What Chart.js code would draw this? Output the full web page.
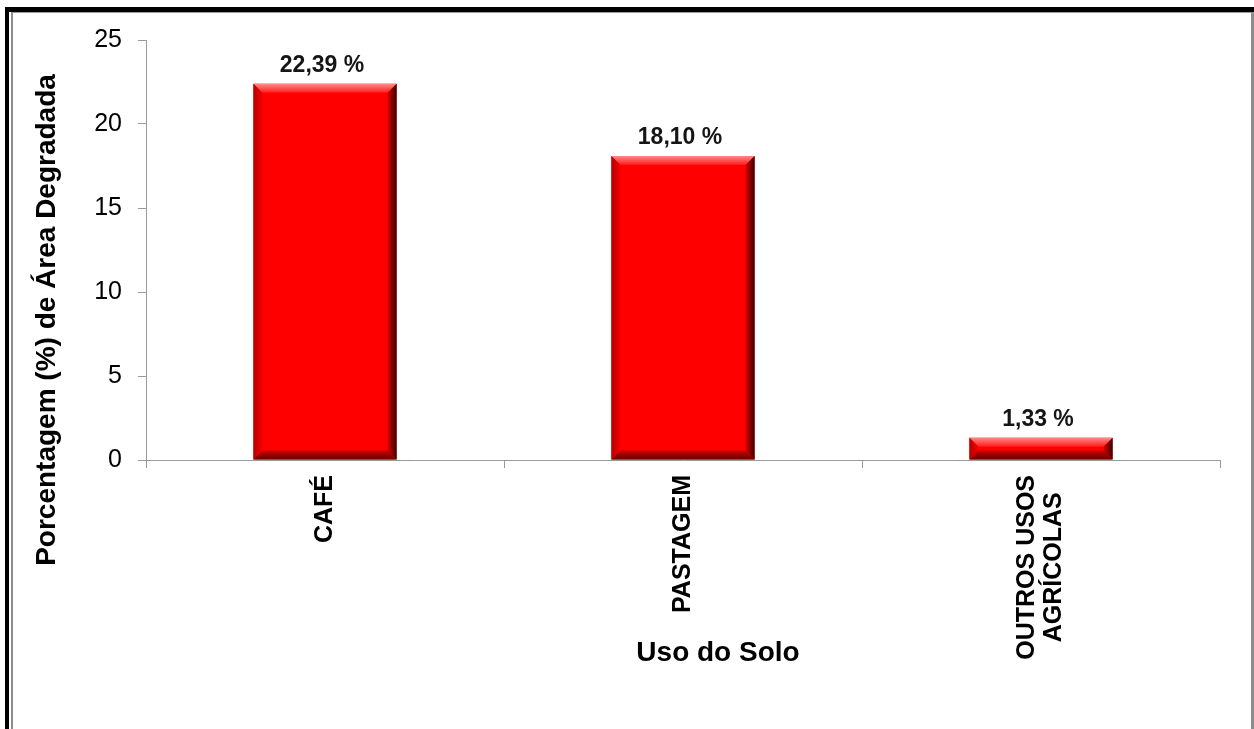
<!DOCTYPE html>
<html lang="pt-BR">
<head>
<meta charset="utf-8">
<title>Uso do Solo</title>
<script src="https://cdn.jsdelivr.net/npm/chart.js@4.4.1/dist/chart.umd.min.js"></script>
<style>
  html, body { margin: 0; padding: 0; background: #fff; overflow: hidden; }
  #wrap { position: relative; width: 1254px; height: 729px; }
  #grafico { position: absolute; left: 0; top: 0; }
  /* moldura da figura */
  #molduraExt { position: absolute; left: 5px; top: 7px; right: 0; bottom: -20px;
    border-top: 5px solid #000; border-left: 4px solid #000; pointer-events: none; }
  #molduraInt { position: absolute; left: 11px; top: 12px; right: 0; bottom: -20px;
    border-top: 1px solid #9a9a9a; border-left: 2px solid #8c8c8c; border-right: 3px solid #8c8c8c;
    pointer-events: none; }
</style>
</head>
<body>
<div id="wrap">
  <canvas id="grafico" width="1254" height="729"></canvas>
  <div id="molduraExt"></div>
  <div id="molduraInt"></div>
</div>
<script>
const categorias = [['CAFÉ'], ['PASTAGEM'], ['OUTROS USOS', 'AGRÍCOLAS']];
const porcentagens = [22.39, 18.10, 1.33];
const ticksY = [0, 5, 10, 15, 20, 25];

const tituloY = 'Porcentagem (%) de Área Degradada';
const tituloX = 'Uso do Solo';

const FONTE = '"Liberation Sans", Arial, Helvetica, sans-serif';
Chart.defaults.font.family = FONTE;

// bordas chanfradas das barras (efeito 3D)
function desenhaChanfro(ctx, l, t, r, b) {
  const e = Math.min(9, (b - t) / 2);
  let g;
  ctx.save();

  g = ctx.createLinearGradient(0, t, 0, t + e);
  g.addColorStop(0, '#ff8a8a');
  g.addColorStop(1, '#ff1c1c');
  ctx.fillStyle = g;
  ctx.beginPath();
  ctx.moveTo(l, t); ctx.lineTo(r, t); ctx.lineTo(r - e, t + e); ctx.lineTo(l + e, t + e);
  ctx.closePath(); ctx.fill();

  g = ctx.createLinearGradient(l, 0, l + e, 0);
  g.addColorStop(0, '#b80000');
  g.addColorStop(1, '#f40000');
  ctx.fillStyle = g;
  ctx.beginPath();
  ctx.moveTo(l, t); ctx.lineTo(l + e, t + e); ctx.lineTo(l + e, b - e); ctx.lineTo(l, b);
  ctx.closePath(); ctx.fill();

  g = ctx.createLinearGradient(0, b - e, 0, b);
  g.addColorStop(0, '#c80000');
  g.addColorStop(1, '#6a0000');
  ctx.fillStyle = g;
  ctx.beginPath();
  ctx.moveTo(l, b); ctx.lineTo(l + e, b - e); ctx.lineTo(r - e, b - e); ctx.lineTo(r, b);
  ctx.closePath(); ctx.fill();

  g = ctx.createLinearGradient(r - e, 0, r, 0);
  g.addColorStop(0, '#d40000');
  g.addColorStop(1, '#3c0000');
  ctx.fillStyle = g;
  ctx.beginPath();
  ctx.moveTo(r, t); ctx.lineTo(r, b); ctx.lineTo(r - e, b - e); ctx.lineTo(r - e, t + e);
  ctx.closePath(); ctx.fill();

  ctx.restore();
}

const rotulos = {
  id: 'rotulos',
  afterDatasetsDraw(chart) {
    const ctx = chart.ctx;
    const meta = chart.getDatasetMeta(0);
    meta.data.forEach((bar, i) => {
      const p = bar.getProps(['x', 'y', 'base', 'width'], true);
      desenhaChanfro(ctx, p.x - p.width / 2, p.y, p.x + p.width / 2, p.base);

      // valor acima da barra
      ctx.save();
      ctx.font = 'bold 23px ' + FONTE;
      ctx.fillStyle = '#151515';
      ctx.textAlign = 'center';
      ctx.textBaseline = 'alphabetic';
      ctx.fillText(porcentagens[i].toFixed(2).replace('.', ',') + ' %', p.x - 3, p.y - 12);
      ctx.restore();
    });
  },
  afterDraw(chart) {
    const ctx = chart.ctx;
    const sx = chart.scales.x;
    const area = chart.chartArea;

    // nomes das categorias, girados
    ctx.save();
    ctx.font = 'bold 25px ' + FONTE;
    ctx.fillStyle = '#000';
    ctx.textAlign = 'center';
    ctx.textBaseline = 'middle';
    categorias.forEach((linhas, i) => {
      const px = sx.getPixelForValue(i);
      const larg = Math.max(...linhas.map(s => ctx.measureText(s).width));
      const yc = sx.top + 15 + larg / 2;
      linhas.forEach((s, k) => {
        const cx = px + (k - (linhas.length - 1) / 2) * 27;
        ctx.save();
        ctx.translate(cx, yc);
        ctx.rotate(-Math.PI / 2);
        ctx.fillText(s, 0, 0);
        ctx.restore();
      });
    });
    ctx.restore();

    // títulos dos eixos
    ctx.save();
    ctx.fillStyle = '#000';
    ctx.textAlign = 'center';
    ctx.textBaseline = 'middle';
    ctx.font = 'bold 28px ' + FONTE;
    ctx.fillText(tituloX, (area.left + area.right) / 2 + 35, 653);
    ctx.font = 'bold 28px ' + FONTE;
    ctx.translate(area.left - 99, (area.top + area.bottom) / 2 + 70);
    ctx.rotate(-Math.PI / 2);
    ctx.fillText(tituloY, 0, 0);
    ctx.restore();
  }
};

new Chart(document.getElementById('grafico'), {
  type: 'bar',
  data: {
    labels: categorias.map(c => c.join(' ')),
    datasets: [{
      data: porcentagens,
      backgroundColor: '#ff0000',
      borderWidth: 0,
      barPercentage: 0.4,
      categoryPercentage: 1
    }]
  },
  options: {
    responsive: false,
    animation: false,
    layout: { padding: { left: 0, top: 40, right: 34, bottom: 0 } },
    plugins: {
      legend: { display: false },
      tooltip: { enabled: false }
    },
    scales: {
      x: {
        grid: { display: true, drawOnChartArea: false, drawTicks: true, tickLength: 8, color: '#9a9a9a', offset: true },
        border: { color: '#9a9a9a' },
        ticks: { display: false },
        afterFit: s => { s.height = 269; }
      },
      y: {
        min: 0,
        max: 25,
        afterBuildTicks: s => { s.ticks = ticksY.map(v => ({ value: v })); },
        ticks: { padding: 16, color: '#000', font: { size: 25 } },
        grid: { drawOnChartArea: false, drawTicks: true, tickLength: 8, color: '#9a9a9a' },
        border: { color: '#9a9a9a' },
        afterFit: s => { s.width = 146; }
      }
    }
  },
  plugins: [rotulos]
});
</script>
</body>
</html>
